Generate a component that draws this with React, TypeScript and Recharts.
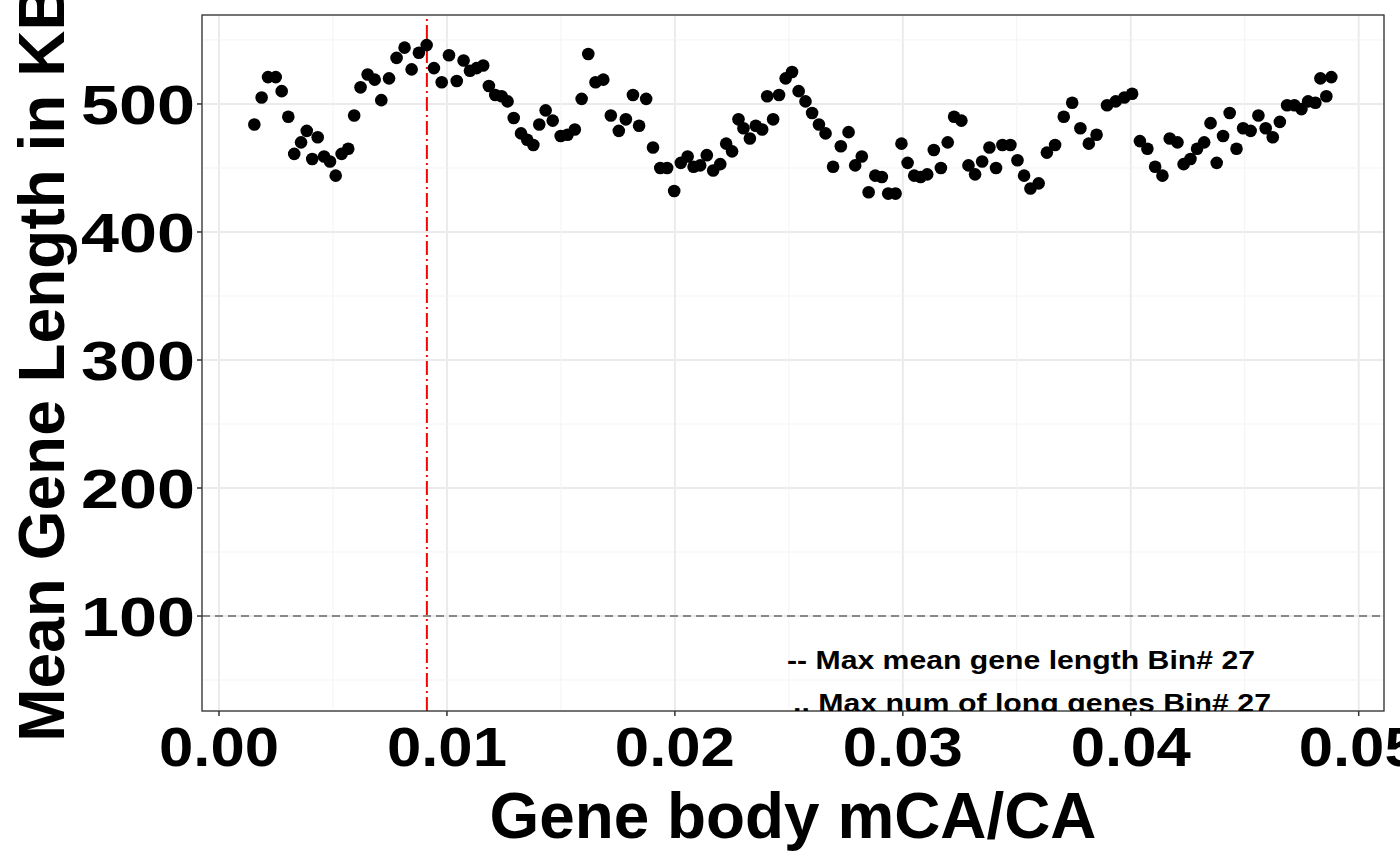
import React from "react";
import { ComposedChart, Scatter, XAxis, YAxis, CartesianGrid, ReferenceLine } from "recharts";

const xVals = [0.00155,0.00187,0.00215,0.00249,0.00275,0.00304,0.0033,0.0036,0.00385,0.00409,0.00433,0.00461,0.00487,0.00512,0.00538,0.00567,0.00593,0.00621,0.00652,0.00683,0.00712,0.00746,0.00779,0.00814,0.00845,0.00877,0.00911,0.00943,0.00977,0.01009,0.01043,0.01073,0.01101,0.0113,0.01159,0.01184,0.01212,0.0124,0.01266,0.01293,0.01325,0.01352,0.01379,0.01405,0.01433,0.01464,0.01499,0.01529,0.01561,0.01591,0.0162,0.01652,0.01686,0.01719,0.01754,0.01785,0.01816,0.01843,0.01874,0.01904,0.01936,0.01966,0.01997,0.02026,0.02056,0.02082,0.02111,0.0214,0.02168,0.02199,0.02225,0.02251,0.02279,0.02301,0.02329,0.02355,0.02383,0.02405,0.02431,0.02457,0.02486,0.02514,0.02543,0.02573,0.02602,0.02632,0.02661,0.02694,0.02728,0.02762,0.02791,0.0282,0.0285,0.02879,0.02908,0.02936,0.02968,0.02994,0.03021,0.0305,0.03078,0.03107,0.03136,0.03167,0.03197,0.03225,0.03257,0.03288,0.03317,0.03348,0.0338,0.03409,0.03437,0.03472,0.03503,0.03532,0.0356,0.03596,0.03632,0.03668,0.03706,0.03743,0.03779,0.03816,0.0385,0.03896,0.03934,0.03972,0.04006,0.0404,0.04073,0.04107,0.04139,0.04171,0.04205,0.04232,0.04262,0.04291,0.04322,0.0435,0.04377,0.04405,0.04434,0.04464,0.04493,0.04526,0.0456,0.04592,0.04623,0.04654,0.04686,0.04718,0.04749,0.04778,0.0481,0.04832,0.04858,0.0488];
const yVals = [484,505,521,521,510,490,461,470,479,457,474,459,455,444,461,465,491,513,523,519,503,520,536,544,527,540,546,528,517,538,518,534,526,528,530,514,507,506,502,489,477,472,468,484,495,487,475,476,480,504,539,517,519,491,479,488,507,483,504,466,450,450,432,454,459,451,452,460,448,453,469,463,488,481,473,483,480,506,488,507,520,525,510,502,493,484,477,451,467,478,452,459,431,444,443,430,430,469,454,444,443,445,464,450,470,490,487,452,445,455,466,450,468,468,456,444,434,438,462,468,490,501,481,469,476,499,502,505,508,471,465,451,444,473,470,453,457,465,470,485,454,475,493,465,481,479,491,481,474,486,499,499,496,502,501,520,506,521];
const data = xVals.map((x, i) => ({ x, y: yVals[i] }));

const xTicks = [0, 0.01, 0.02, 0.03, 0.04, 0.05];
const xTickLabels = ["0.00", "0.01", "0.02", "0.03", "0.04", "0.05"];
const yTicks = [100, 200, 300, 400, 500];
const xMinor = [0.005, 0.015, 0.025, 0.035, 0.045];
const yMinor = [50, 150, 250, 350, 450, 550];
const maxBinX = 0.00912;
const refY = 100;

const font = "'Liberation Sans', Arial, sans-serif";

const XTick = (p: any) => {
  const label = xTickLabels[xTicks.indexOf(p.payload.value)] ?? String(p.payload.value);
  return (
    <text x={p.x} y={p.y + 48} textAnchor="middle" fontFamily={font} fontWeight={700} fontSize={56} fill="#000" textLength={120} lengthAdjust="spacingAndGlyphs">{label}</text>
  );
};
const YTick = (p: any) => (
  <text x={p.x} y={p.y + 20} textAnchor="end" fontFamily={font} fontWeight={700} fontSize={56} fill="#000" textLength={114} lengthAdjust="spacingAndGlyphs">{String(p.payload.value)}</text>
);

export default function App() {
  return (
    <div style={{ position: "absolute", left: 0, top: 0, width: 1400, height: 866, background: "#fff", overflow: "hidden", fontFamily: font }}>
      <ComposedChart width={1400} height={866} data={data} margin={{ top: 15, right: 16, left: 0, bottom: 0 }}>
        <CartesianGrid stroke="#ebebeb" strokeWidth={2} />
        {xMinor.map((v) => (
          <ReferenceLine key={"xm" + v} x={v} stroke="#f3f3f3" strokeWidth={1} />
        ))}
        {yMinor.map((v) => (
          <ReferenceLine key={"ym" + v} y={v} stroke="#f3f3f3" strokeWidth={1} />
        ))}
        <XAxis
          type="number"
          dataKey="x"
          domain={[-0.000746, 0.05111]}
          ticks={xTicks}
          height={155}
          axisLine={false}
          tickLine={{ stroke: "#333", strokeWidth: 1.5 }}
          tickSize={5}
          interval={0}
          allowDataOverflow
          tick={<XTick />}
        />
        <YAxis
          type="number"
          dataKey="y"
          domain={[25.8, 569.5]}
          ticks={yTicks}
          width={202}
          axisLine={false}
          tickLine={{ stroke: "#333", strokeWidth: 1.5 }}
          tickSize={5}
          allowDataOverflow
          tick={<YTick />}
        />
        <ReferenceLine y={refY} stroke="#888" strokeWidth={2} strokeDasharray="8 5" />
        <ReferenceLine x={maxBinX} stroke="#ff0000" strokeWidth={2} strokeDasharray="14 4 2 4" />
        <Scatter data={data} fill="#000" isAnimationActive={false} shape={(p: any) => <circle cx={p.cx} cy={p.cy} r={6.3} fill="#000" />} />
      </ComposedChart>
      <svg width={1400} height={866} style={{ position: "absolute", left: 0, top: 0, pointerEvents: "none" }}>
        <defs>
          <clipPath id="panel">
            <rect x={202} y={15} width={1182} height={696} />
          </clipPath>
        </defs>
        <rect x={202} y={15} width={1182} height={696} fill="none" stroke="#333" strokeWidth={1.3} />
        <g clipPath="url(#panel)" fontFamily={font} fontWeight={700} fontSize={25} fill="#000">
          <text x={787} y={669} textLength={468} lengthAdjust="spacingAndGlyphs">-- Max mean gene length Bin# 27</text>
          <text x={793} y={712} textLength={478} lengthAdjust="spacingAndGlyphs">.. Max num of long genes Bin# 27</text>
        </g>
        <text x={793} y={838} textAnchor="middle" fontFamily={font} fontWeight={700} fontSize={64} fill="#000" textLength={607} lengthAdjust="spacingAndGlyphs">Gene body mCA/CA</text>
        <text transform="translate(64,363) rotate(-90)" textAnchor="middle" fontFamily={font} fontWeight={700} fontSize={64} fill="#000">Mean Gene Length in KB</text>
      </svg>
    </div>
  );
}
